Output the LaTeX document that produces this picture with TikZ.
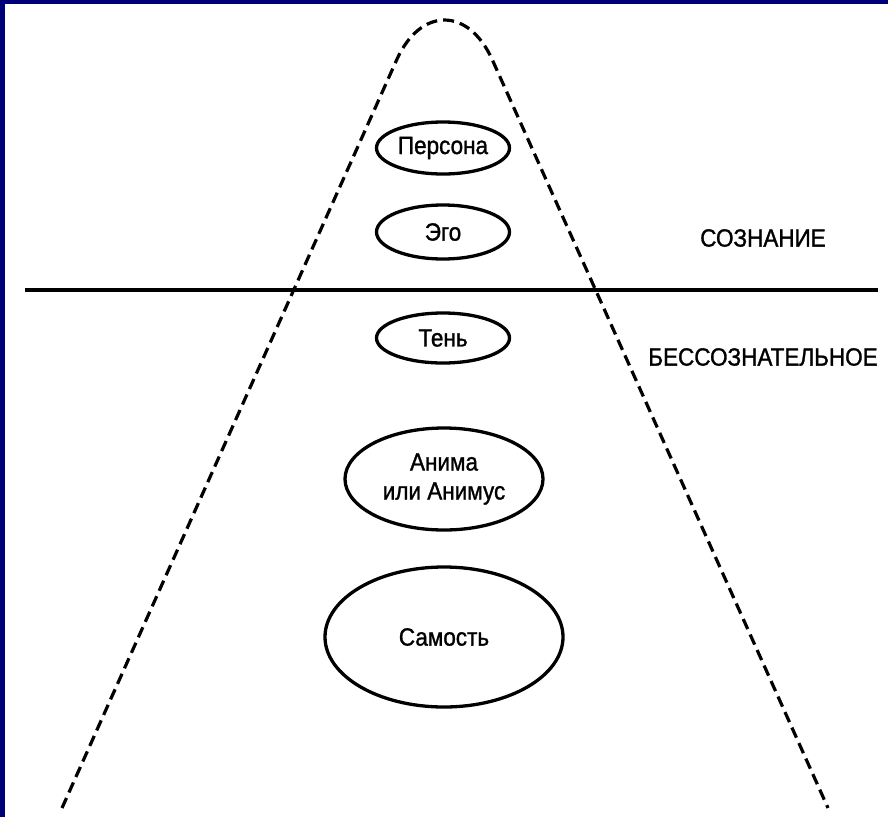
\documentclass[tikz,border=0pt]{standalone}
\usepackage{fontspec}
\setmainfont{Liberation Sans}[FakeStretch=0.9, FakeBold=1.2]
\usetikzlibrary{shapes.geometric}
\definecolor{navyframe}{RGB}{0,0,120}
\begin{document}
\begin{tikzpicture}[x=1pt,y=-1pt,
  ell/.style={draw=black, line width=3.3pt, ellipse, inner sep=0pt, font=\fontsize{25}{29}\selectfont, align=center},
  lbl/.style={font=\fontsize{25}{29}\selectfont, inner sep=0pt},
  dashline/.style={line width=3.2pt, dash pattern=on 11pt off 6pt, line cap=butt}]
\useasboundingbox (0,0) rectangle (888,817);
\fill[white] (0,0) rectangle (888,817);
\fill[navyframe] (0,0) rectangle (888,4);
\fill[navyframe] (0,0) rectangle (5,817);
% pyramid
\coordinate (bl) at (62,808);
\coordinate (tl) at (396.6,60);
\coordinate (tr) at (492.4,60);
\coordinate (br) at (828,808);
\draw[dashline] (bl) -- (tl) .. controls (420.5,6.7) and (468.5,6.7) .. (tr) -- (br);
% horizontal line
\coordinate (hl) at (25,290);
\coordinate (hr) at (878,290);
\draw[line width=4.8pt] (hl) -- (hr);
% ellipses
\node[ell, minimum width=133pt, minimum height=52pt] (persona) at (443,148) {Персона};
\node[ell, minimum width=133pt, minimum height=54pt] (ego) at (443,232) {Эго};
\node[ell, minimum width=133pt, minimum height=50pt] (shadow) at (443,338) {Тень};
\node[ell, minimum width=198pt, minimum height=102pt] (anima) at (444,479) {Анима\\или Анимус};
\node[ell, minimum width=238pt, minimum height=140pt] (self) at (444,637) {Самость};
% labels
\node[lbl] (consc) at (763,238) {СОЗНАНИЕ};
\node[lbl] (uncons) at (763,357) {БЕССОЗНАТЕЛЬНОЕ};
\end{tikzpicture}
\end{document}
